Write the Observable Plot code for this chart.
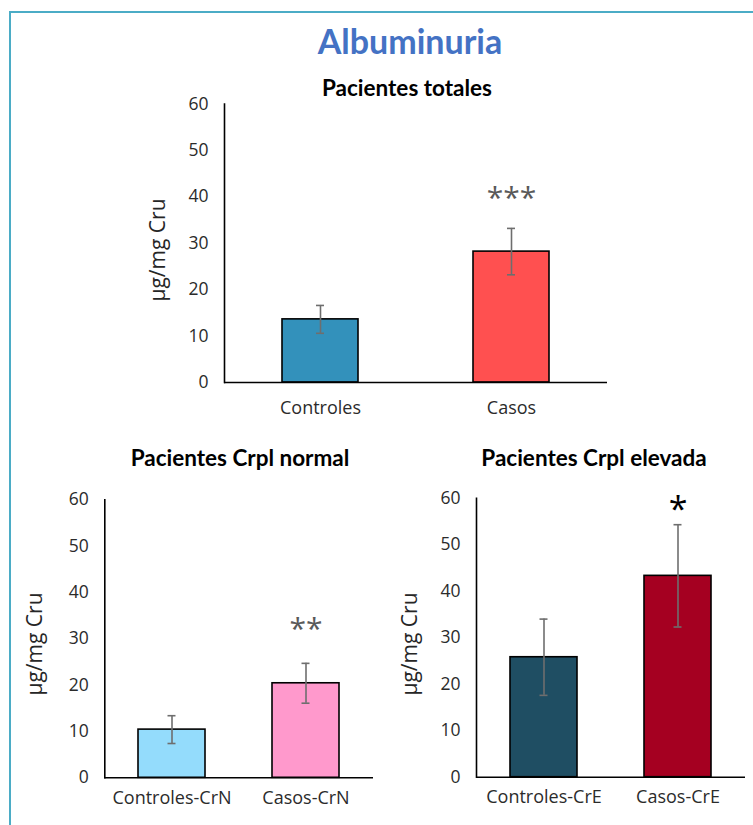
<!DOCTYPE html>
<html>
<head>
<meta charset="utf-8">
<script src="https://cdn.jsdelivr.net/npm/d3@7"></script>
<script src="https://cdn.jsdelivr.net/npm/@observablehq/plot@0.6"></script>
<style>
  html, body { margin: 0; padding: 0; background: #fff; }
  #page { position: relative; width: 753px; height: 825px; overflow: hidden; background: #fff; font-family: "Open Sans", sans-serif; }
  .border-top { position: absolute; left: 10px; top: 11px; width: 743px; height: 2px; background: #4BACC6; }
  .border-left { position: absolute; left: 9px; top: 11px; width: 2px; height: 814px; background: #4BACC6; }
  .t { position: absolute; transform: translate(-50%, -50%); white-space: nowrap; }
  .main { font-family: Lato, sans-serif; font-weight: 700; font-size: 34px; color: #4472C4; }
  .sub { font-family: Lato, sans-serif; font-weight: 700; font-size: 22.5px; color: #000; }
  .ylab { font-family: "Open Sans", sans-serif; font-size: 21px; color: #262626; transform: translate(-50%, -50%) rotate(-90deg); }
  .plot { position: absolute; }
  .plot svg { overflow: visible; }
</style>
</head>
<body>
<div id="page">
  <div class="border-top"></div>
  <div class="border-left"></div>
  <div class="t main" style="left:410px; top:40px;">Albuminuria</div>
  <div class="t sub" style="left:407px; top:87px;">Pacientes totales</div>
  <div class="t sub" style="left:240px; top:457px;">Pacientes Crpl normal</div>
  <div class="t sub" style="left:594px; top:457px;">Pacientes Crpl elevada</div>
  <div class="t ylab" style="left:157px; top:250px;">µg/mg Cru</div>
  <div class="t ylab" style="left:34px; top:644px;">µg/mg Cru</div>
  <div class="t ylab" style="left:409px; top:644px;">µg/mg Cru</div>
  <div class="plot" id="p1" style="left:140px; top:95px;"></div>
  <div class="plot" id="p2" style="left:40px; top:490px;"></div>
  <div class="plot" id="p3" style="left:410px; top:488px;"></div>
</div>
<script>
// ---- Data ----
const yTicks = [0, 10, 20, 30, 40, 50, 60];

const totalCategories = ["Controles", "Casos"];
const totalValues = [13.6, 28.2];
const totalErrors = [3.0, 5.0];
const totalColors = ["#3391BB", "#FF5050"];
const totalStars = ["", "***"];
const totalStarY = [null, 41];

const normalCategories = ["Controles-CrN", "Casos-CrN"];
const normalValues = [10.4, 20.4];
const normalErrors = [3.0, 4.3];
const normalColors = ["#94DCFC", "#FF99CC"];
const normalStars = ["", "**"];
const normalStarY = [null, 33.4];

const elevadaCategories = ["Controles-CrE", "Casos-CrE"];
const elevadaValues = [25.8, 43.3];
const elevadaErrors = [8.2, 11.0];
const elevadaColors = ["#1F4E63", "#A50021"];
const elevadaStars = ["", "*"];
const elevadaStarY = [null, 59];

function chart(o) {
  const data = o.categories.map((c, i) => ({
    cat: c, v: o.values[i], e: o.errors[i], color: o.colors[i], star: o.stars[i], sy: o.starY[i]
  }));
  const errStroke = "#6E6E6E";
  return Plot.plot({
    width: o.width,
    height: o.height,
    marginLeft: o.ml, marginRight: o.mr, marginTop: o.mt, marginBottom: o.mb,
    style: { fontFamily: "'Open Sans', sans-serif", color: "#2b2b2b", background: "transparent", overflow: "visible" },
    x: { domain: o.categories, paddingInner: o.pad, paddingOuter: o.pad / 2, label: null },
    y: { domain: [0, 60], label: null },
    color: { type: "identity" },
    marks: [
      Plot.barY(data, { x: "cat", y: "v", fill: d => d.color, stroke: "#000", strokeWidth: 1.6 }),
      Plot.ruleX(data, { x: "cat", y1: d => d.v - d.e, y2: d => d.v + d.e, stroke: errStroke, strokeWidth: 1.6 }),
      Plot.tickY(data, { x: "cat", y: d => d.v + d.e, insetLeft: o.cap, insetRight: o.cap, stroke: errStroke, strokeWidth: 1.6 }),
      Plot.tickY(data, { x: "cat", y: d => d.v - d.e, insetLeft: o.cap, insetRight: o.cap, stroke: errStroke, strokeWidth: 1.6 }),
      Plot.text(data.filter(d => d.star), { x: "cat", y: "sy", text: "star", fontSize: o.starSize, fill: o.starColor, dy: o.starDy }),
      Plot.ruleY([0], { stroke: "#000", strokeWidth: 1.6 }),
      Plot.frame({ anchor: "left", stroke: "#000", strokeWidth: 1.6 }),
      Plot.axisY({ ticks: yTicks, tickSize: 0, tickPadding: 16, fontSize: 17.5, label: null }),
      Plot.axisX({ tickSize: 0, tickPadding: o.xpad, fontSize: 18, label: null })
    ]
  });
}

document.getElementById("p1").append(chart({
  categories: totalCategories, values: totalValues, errors: totalErrors, colors: totalColors,
  stars: totalStars, starY: totalStarY,
  width: 480, height: 330, ml: 84, mr: 13, mt: 8.5, mb: 43, pad: 0.6, cap: 34,
  starSize: 30, starColor: "#595959", starDy: 6, xpad: 19
}));
document.getElementById("p2").append(chart({
  categories: normalCategories, values: normalValues, errors: normalErrors, colors: normalColors,
  stars: normalStars, starY: normalStarY,
  width: 345, height: 325, ml: 64.3, mr: 12, mt: 9.3, mb: 37.7, pad: 0.5, cap: 29.5,
  starSize: 30, starColor: "#595959", starDy: 6, xpad: 13
}));
document.getElementById("p3").append(chart({
  categories: elevadaCategories, values: elevadaValues, errors: elevadaErrors, colors: elevadaColors,
  stars: elevadaStars, starY: elevadaStarY,
  width: 343, height: 325, ml: 66, mr: 8, mt: 9.7, mb: 36.3, pad: 0.5, cap: 29.5,
  starSize: 34, starColor: "#000", starDy: 7, xpad: 13
}));
</script>
</body>
</html>
